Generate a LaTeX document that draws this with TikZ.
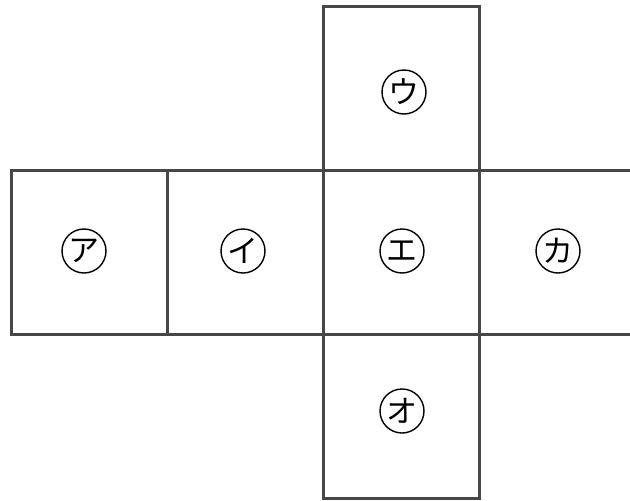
\documentclass[tikz,border=0pt]{standalone}
\usepackage{fontspec}
\newfontfamily\cjk{Noto Sans CJK JP}
\begin{document}
\begin{tikzpicture}[x=1pt,y=-1pt,
  edge/.style={draw=black!72,line width=3pt,line cap=rect},
  lab/.style={circle,draw=black,line width=1.4pt,minimum size=44pt,inner sep=0pt,font=\cjk\fontsize{31}{31}\selectfont}]
\useasboundingbox (0,0) rectangle (630,501);
% coordinates
\coordinate (a1) at (11,170); \coordinate (a2) at (11,334);
\coordinate (b1) at (167,170); \coordinate (b2) at (167,334);
\coordinate (c0) at (323,6); \coordinate (c1) at (323,170); \coordinate (c2) at (323,334); \coordinate (c3) at (323,498);
\coordinate (d0) at (479,6); \coordinate (d1) at (479,170); \coordinate (d2) at (479,334); \coordinate (d3) at (479,498);
\coordinate (e1) at (630,170); \coordinate (e2) at (630,334);
% lines
\draw[edge] (a1) -- (e1);
\draw[edge] (a2) -- (e2);
\draw[edge] (a1) -- (a2);
\draw[edge] (b1) -- (b2);
\draw[edge] (c0) -- (c3);
\draw[edge] (d0) -- (d3);
\draw[edge] (c0) -- (d0);
\draw[edge] (c3) -- (d3);
% labels
\node[lab] (la) at (84,251) {ア};
\node[lab] (li) at (243,251) {イ};
\node[lab] (lu) at (404,92) {ウ};
\node[lab] (le) at (402,251) {エ};
\node[lab] (lo) at (402,411) {オ};
\node[lab] (lk) at (558,251) {カ};
\end{tikzpicture}
\end{document}
